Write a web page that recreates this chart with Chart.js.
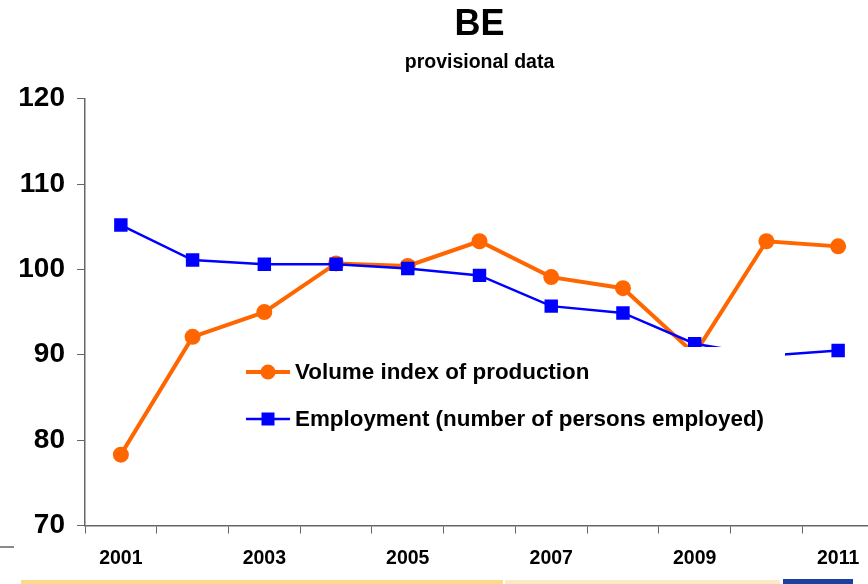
<!DOCTYPE html>
<html>
<head>
<meta charset="utf-8">
<script src="https://cdn.jsdelivr.net/npm/chart.js@4.4.0/dist/chart.umd.min.js"></script>
<style>
  html, body { margin: 0; padding: 0; background: #fff; overflow: hidden; }
  #wrap { position: relative; width: 868px; height: 584px; overflow: hidden; }
  #mycanvas { position: absolute; left: 0; top: 0; }
  .deco { position: absolute; }
</style>
</head>
<body>
<div id="wrap">
  <canvas id="mycanvas" width="874" height="584"></canvas>
  <div class="deco" style="left:0;top:546px;width:14px;height:2px;background:#8a8a8a"></div>
  <div class="deco" style="left:21px;top:580px;width:482px;height:4px;background:#fdd98a"></div>
  <div class="deco" style="left:505px;top:580px;width:275px;height:4px;background:#fde9c6"></div>
  <div class="deco" style="left:783px;top:579px;width:70px;height:5px;background:#1f3f9f"></div>
</div>
<script>
var years = ['2001', '2002', '2003', '2004', '2005', '2006', '2007', '2008', '2009', '2010', '2011'];
var production = [78.3, 92.1, 95.0, 100.7, 100.4, 103.3, 99.1, 97.8, 90.1, 103.3, 102.7];
var employment = [105.2, 101.1, 100.6, 100.6, 100.1, 99.3, 95.7, 94.9, 91.3, 89.9, 90.5];
var yTicks = [70, 80, 90, 100, 110, 120];

var font = '"Liberation Sans", Arial, sans-serif';
var axisColor = '#666';

// legend drawn by hand inside the plot, on a white box
var legendBox = {
  id: 'legendBox',
  afterDatasetsDraw: function(chart) {
    var ctx = chart.ctx;
    ctx.save();
    ctx.fillStyle = '#fff';
    ctx.fillRect(232, 347, 553, 100);
    var rows = [372, 419];
    chart.data.datasets.forEach(function(ds, i) {
      var y = rows[i];
      ctx.strokeStyle = ds.borderColor;
      ctx.lineWidth = ds.borderWidth;
      ctx.beginPath();
      ctx.moveTo(246, y);
      ctx.lineTo(290, y);
      ctx.stroke();
      ctx.fillStyle = ds.pointBackgroundColor;
      if (ds.pointStyle === 'circle') {
        ctx.beginPath();
        ctx.arc(268, y, 7.5, 0, Math.PI * 2);
        ctx.fill();
      } else {
        ctx.fillRect(261.5, y - 6.5, 13, 13);
      }
      ctx.fillStyle = '#000';
      ctx.font = 'bold 22.4px ' + font;
      ctx.textBaseline = 'middle';
      ctx.fillText(ds.label, 295, y + 1);
    });
    ctx.restore();
  }
};

var chartdata = {
  labels: years,
  datasets: [
    {
      label: 'Volume index of production',
      data: production,
      borderColor: '#ff6600',
      backgroundColor: '#ff6600',
      pointBackgroundColor: '#ff6600',
      pointBorderColor: '#ff6600',
      borderWidth: 4,
      pointStyle: 'circle',
      pointRadius: 8,
      pointBorderWidth: 0,
      order: 1
    },
    {
      label: 'Employment (number of persons employed)',
      data: employment,
      borderColor: '#0000ff',
      backgroundColor: '#0000ff',
      pointBackgroundColor: '#0000ff',
      pointBorderColor: '#0000ff',
      borderWidth: 2.5,
      pointStyle: 'rect',
      pointRadius: 9.5,
      pointBorderWidth: 0,
      order: 0
    }
  ]
};

var ctx = document.getElementById('mycanvas');

var lineGraph = new Chart(ctx, {
  type: 'line',
  data: chartdata,
  plugins: [legendBox],
  options: {
    responsive: false,
    animation: false,
    layout: { padding: 0, autoPadding: false },
    plugins: {
      legend: { display: false },
      tooltip: { enabled: false },
      title: {
        display: true,
        fullSize: false,
        text: 'BE',
        color: '#000',
        font: { family: font, size: 36, weight: 'bold' },
        padding: { top: 3, bottom: 0 }
      },
      subtitle: {
        display: true,
        fullSize: false,
        text: 'provisional data',
        color: '#000',
        font: { family: font, size: 19.5, weight: 'bold' },
        padding: { top: 5, bottom: 24.1 }
      }
    },
    scales: {
      x: {
        offset: true,
        grid: { offset: true, drawOnChartArea: false, color: axisColor, tickLength: 8 },
        border: { color: axisColor, width: 1.5 },
        ticks: {
          autoSkip: false,
          maxRotation: 0,
          padding: 13,
          color: '#000',
          font: { family: font, size: 19.5, weight: 'bold' },
          callback: function(val, i) {
            return i % 2 === 0 ? this.getLabelForValue(val) : '';
          }
        },
        afterFit: function(scale) {
          scale.height = 58.5;
          scale.paddingLeft = 0;
          scale.paddingRight = 0;
        }
      },
      y: {
        min: 70,
        max: 120,
        grid: { drawOnChartArea: false, color: axisColor, tickLength: 8 },
        border: { color: axisColor, width: 1.5 },
        afterBuildTicks: function(scale) {
          scale.ticks = yTicks.map(function(v) { return { value: v }; });
        },
        ticks: {
          padding: 12,
          color: '#000',
          font: { family: font, size: 28, weight: 'bold' }
        },
        afterFit: function(scale) { scale.width = 85; }
      }
    }
  }
});
</script>
</body>
</html>
